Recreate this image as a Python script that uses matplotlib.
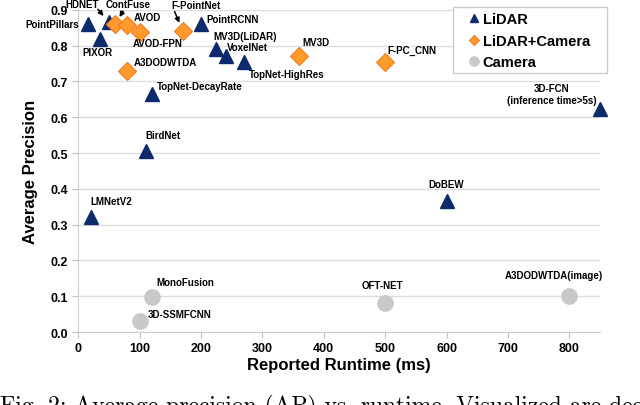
import matplotlib
matplotlib.use("Agg")
import matplotlib.pyplot as plt
from matplotlib.patches import Rectangle

plt.rcParams['font.family'] = ['Liberation Sans', 'DejaVu Sans']
plt.rcParams['font.weight'] = 'bold'

# LiDAR only methods
lidar_names = ['PointPillars', 'HDNET', 'PIXOR', 'PointRCNN', 'MV3D(LiDAR)', 'VoxelNet',
               'TopNet-HighRes', 'TopNet-DecayRate', 'BirdNet', 'LMNetV2', 'DoBEW',
               '3D-FCN\n(inference time>5s)']
lidar_runtime = [16, 50, 35, 200, 225, 240, 270, 120, 110, 20, 600, 850]
lidar_ap = [0.86, 0.865, 0.818, 0.86, 0.79, 0.77, 0.753, 0.665, 0.506, 0.32, 0.367, 0.623]

# LiDAR + camera fusion methods
fusion_names = ['ContFuse', 'AVOD', 'AVOD-FPN', 'F-PointNet', 'A3DODWTDA', 'MV3D', 'F-PC_CNN']
fusion_runtime = [60, 80, 100, 170, 80, 360, 500]
fusion_ap = [0.86, 0.857, 0.839, 0.842, 0.73, 0.772, 0.753]

# camera only methods
camera_names = ['MonoFusion', '3D-SSMFCNN', 'OFT-NET', 'A3DODWTDA(image)']
camera_runtime = [120, 100, 500, 800]
camera_ap = [0.097, 0.032, 0.08, 0.101]

# label placement: (dx, dy) in pixels from the marker, horizontal alignment
label_pos = {
    'PointPillars': (-9, 0, 'right'),
    'HDNET': (-27, 18, 'center'),
    'PIXOR': (-2, -13, 'center'),
    'PointRCNN': (5, 5, 'left'),
    'MV3D(LiDAR)': (-3, 13, 'left'),
    'VoxelNet': (1, 9, 'left'),
    'TopNet-HighRes': (5, -12, 'left'),
    'TopNet-DecayRate': (5, 8, 'left'),
    'BirdNet': (0, 16, 'left'),
    'LMNetV2': (0, 16, 'left'),
    'DoBEW': (0, 17, 'center'),
    '3D-FCN\n(inference time>5s)': (-48, 15, 'center'),
    'ContFuse': (13, 20, 'center'),
    'AVOD': (6, 8, 'left'),
    'AVOD-FPN': (-7, -11, 'left'),
    'F-PointNet': (13, 26, 'center'),
    'A3DODWTDA': (6, 9, 'left'),
    'MV3D': (3, 14, 'left'),
    'F-PC_CNN': (2, 12, 'left'),
    'MonoFusion': (4, 15, 'left'),
    '3D-SSMFCNN': (8, 7, 'left'),
    'OFT-NET': (-3, 18, 'center'),
    'A3DODWTDA(image)': (-15, 21, 'center'),
}

# small arrows pointing from the label to the marker
arrow_start = {'HDNET': (-11, 13), 'ContFuse': (8, 13), 'F-PointNet': (-8, 19)}

fig = plt.figure(figsize=(6.4, 4.06), dpi=100)
ax = fig.add_axes([0.1223, 0.1798, 0.8152, 0.7936])

navy = '#0c2a6c'
orange = '#ff9a2c'
grey = '#c9c9c9'

ax.plot(lidar_runtime, lidar_ap, '^', color=navy, ms=9.5, mec=navy, ls='none',
        label='LiDAR', clip_on=False, zorder=3)
ax.plot(fusion_runtime, fusion_ap, 'D', color=orange, ms=9, mec='#f47a1e', mew=0.8, ls='none',
        label='LiDAR+Camera', clip_on=False, zorder=3)
ax.plot(camera_runtime, camera_ap, 'o', color=grey, ms=11, mec=grey, ls='none',
        label='Camera', clip_on=False, zorder=3)

all_names = lidar_names + fusion_names + camera_names
all_x = lidar_runtime + fusion_runtime + camera_runtime
all_y = lidar_ap + fusion_ap + camera_ap
for name, x, y in zip(all_names, all_x, all_y):
    dx, dy, ha = label_pos[name]
    ax.annotate(name, (x, y), xytext=(dx, dy), textcoords='offset pixels',
                ha=ha, va='center', fontsize=7, fontweight='bold',
                multialignment='center', zorder=4)
    if name in arrow_start:
        ax.annotate('', (x, y), xytext=arrow_start[name], textcoords='offset pixels',
                    arrowprops=dict(arrowstyle='-|>', color='black', lw=1.1,
                                    mutation_scale=7, shrinkA=0, shrinkB=6))

ax.set_xlim(0, 850)
ax.set_ylim(0, 0.9)
ax.set_xticks(range(0, 900, 100))
ax.set_yticks([i / 10 for i in range(10)])
ax.set_yticklabels(['%.1f' % (i / 10) for i in range(10)])
ax.tick_params(labelsize=9, length=4, color='#bfbfbf', width=0.8)
for lab in ax.get_xticklabels() + ax.get_yticklabels():
    lab.set_fontweight('bold')

ax.grid(axis='y', color='#dedede', lw=1)
ax.set_axisbelow(True)
for s in ['top', 'right']:
    ax.spines[s].set_visible(False)
for s in ['left', 'bottom']:
    ax.spines[s].set_color('#cfcfcf')

ax.set_xlabel('Reported Runtime (ms)', fontsize=12, fontweight='bold', labelpad=2)
ax.set_ylabel('Average Precision', fontsize=12, fontweight='bold', labelpad=9)

# legend box drawn by hand so the left padding can be wider than the rest
W, H = 640, 406
box = Rectangle((453 / W, 1 - 74 / H), 154 / W, 66 / H, transform=fig.transFigure,
                facecolor='white', edgecolor='#cccccc', lw=1, zorder=5, clip_on=False)
ax.add_patch(box)
leg = ax.legend(loc='upper left', bbox_to_anchor=(465 / W, 1 - 9 / H),
                bbox_transform=fig.transFigure, fontsize=10.5, markerscale=0.6,
                handlelength=0.6, handletextpad=0.3, borderpad=0.3, labelspacing=0.5,
                frameon=False, borderaxespad=0)
leg.set_zorder(6)
for t in leg.get_texts():
    t.set_fontweight('bold')

# caption of the paper, cut off at the bottom edge
fig.text(0.0, 1 - 413 / H, 'Fig. 2: Average precision (AP) vs. runtime. Visualized are deep',
         family='cmr10', fontsize=17, fontweight='normal', va='baseline', ha='left')

fig.savefig('out.png', dpi=100)
